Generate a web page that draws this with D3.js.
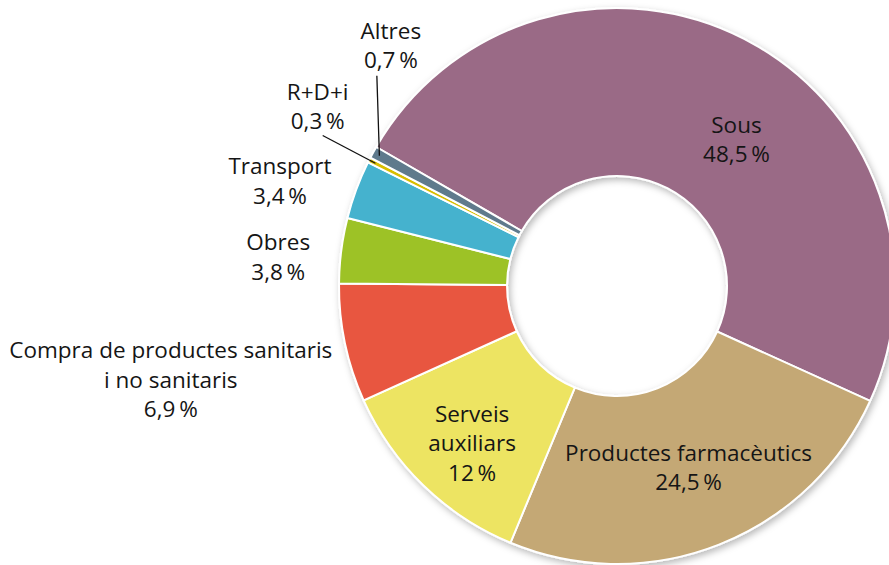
<!DOCTYPE html>
<html>
	<head>
		<meta charset="utf-8">
		<style>
			body, html {
				margin: 0;
				padding: 0;
				background: #fff;
			}
			text {
				font-family: 'Open Sans', sans-serif;
				font-size: 22.5px;
				fill: #151515;
			}
			.slice {
				stroke: #fff;
				stroke-width: 2px;
			}
			.leader {
				stroke: #111;
				stroke-width: 1.3px;
				fill: none;
			}
		</style>
	</head>
	<body>
		<svg id="svg" width="889" height="565"></svg>

		<script src="https://d3js.org/d3.v7.min.js"></script>
		<script>
			// Data (order is clockwise from the top-left)
			const categories = ['Sous', 'Productes farmacèutics', 'Serveis auxiliars',
				'Compra de productes sanitaris i no sanitaris', 'Obres', 'Transport', 'R+D+i', 'Altres']
			const shares = [48.5, 24.5, 12, 6.9, 3.8, 3.4, 0.3, 0.7]
			const shareLabels = ['48,5', '24,5', '12', '6,9', '3,8', '3,4', '0,3', '0,7']

			const colors = ['#9a6b86', '#c4a874', '#ede462', '#e8573f', '#9dc228', '#45b2ce', '#d8be00', '#5e7a8c']

			// how the label text is split into lines
			const labelLines = [
				['Sous'],
				['Productes farmacèutics'],
				['Serveis', 'auxiliars'],
				['Compra de productes sanitaris', 'i no sanitaris'],
				['Obres'],
				['Transport'],
				['R+D+i'],
				['Altres']
			]

			// label placement: radius from centre and a nudge of the slice mid angle (degrees)
			const labelRadius = [189, 195, 214, 456, 340, 353, 349, 330]
			const labelNudge = [12, 0, -1.5, 0, -2.5, -3, 4, 18]
			// the two tiny slices get a pointer line (offset from label centre)
			const leaderFrom = { 6: [5, 29], 7: [-14, 30] }

			const cx = 617
			const cy = 286
			const outerR = 278
			const innerR = 110
			const lineH = 29.5

			const data = categories.map((name, i) => ({
				name, value: shares[i], pct: shareLabels[i],
				lines: labelLines[i], color: colors[i], i
			}))

			const startDeg = -60
			const pie = d3.pie()
				.sort(null)
				.value(d => d.value)
				.startAngle(startDeg * Math.PI / 180)
				.endAngle(startDeg * Math.PI / 180 + 2 * Math.PI)

			const arc = d3.arc()
				.innerRadius(innerR)
				.outerRadius(outerR)

			const svg = d3.select('#svg')

			// soft shadow round the ring
			const defs = svg.append('defs')
			const filter = defs.append('filter')
				.attr('id', 'shadow')
				.attr('x', '-20%').attr('y', '-20%')
				.attr('width', '140%').attr('height', '140%')
			filter.append('feDropShadow')
				.attr('dx', 2)
				.attr('dy', 3)
				.attr('stdDeviation', 3.5)
				.attr('flood-color', '#000')
				.attr('flood-opacity', 0.28)

			const g = svg.append('g')
				.attr('transform', `translate(${cx}, ${cy})`)

			const arcs = pie(data)

			g.append('g')
				.attr('filter', 'url(#shadow)')
				.selectAll('path')
				.data(arcs)
				.enter()
				.append('path')
				.attr('class', 'slice')
				.attr('fill', d => d.data.color)
				.attr('d', arc)

			// label positions
			const pos = d => {
				const a = (d.startAngle + d.endAngle) / 2 + labelNudge[d.data.i] * Math.PI / 180
				const r = labelRadius[d.data.i]
				return [Math.sin(a) * r, -Math.cos(a) * r]
			}

			// pointer lines for tiny slices
			const tip = d => {
				const a = (d.startAngle + d.endAngle) / 2
				return [Math.sin(a) * (outerR - 7), -Math.cos(a) * (outerR - 7)]
			}
			g.selectAll('.leader')
				.data(arcs.filter(d => leaderFrom[d.data.i]))
				.enter()
				.append('line')
				.attr('class', 'leader')
				.attr('x1', d => pos(d)[0] + leaderFrom[d.data.i][0])
				.attr('y1', d => pos(d)[1] + leaderFrom[d.data.i][1])
				.attr('x2', d => tip(d)[0])
				.attr('y2', d => tip(d)[1])

			const label = g.selectAll('.label')
				.data(arcs)
				.enter()
				.append('text')
				.attr('class', 'label')
				.attr('text-anchor', 'middle')
				.attr('transform', d => `translate(${pos(d)[0]}, ${pos(d)[1]})`)

			label.each(function (d) {
				const lines = d.data.lines.concat([d.data.pct + '\u2009%'])
				const n = lines.length
				d3.select(this).selectAll('tspan')
					.data(lines)
					.enter()
					.append('tspan')
					.attr('x', 0)
					.attr('y', (t, k) => (k - (n - 1) / 2) * lineH)
					.attr('dy', '0.35em')
					.text(t => t)
			})
		</script>
	</body>
</html>
